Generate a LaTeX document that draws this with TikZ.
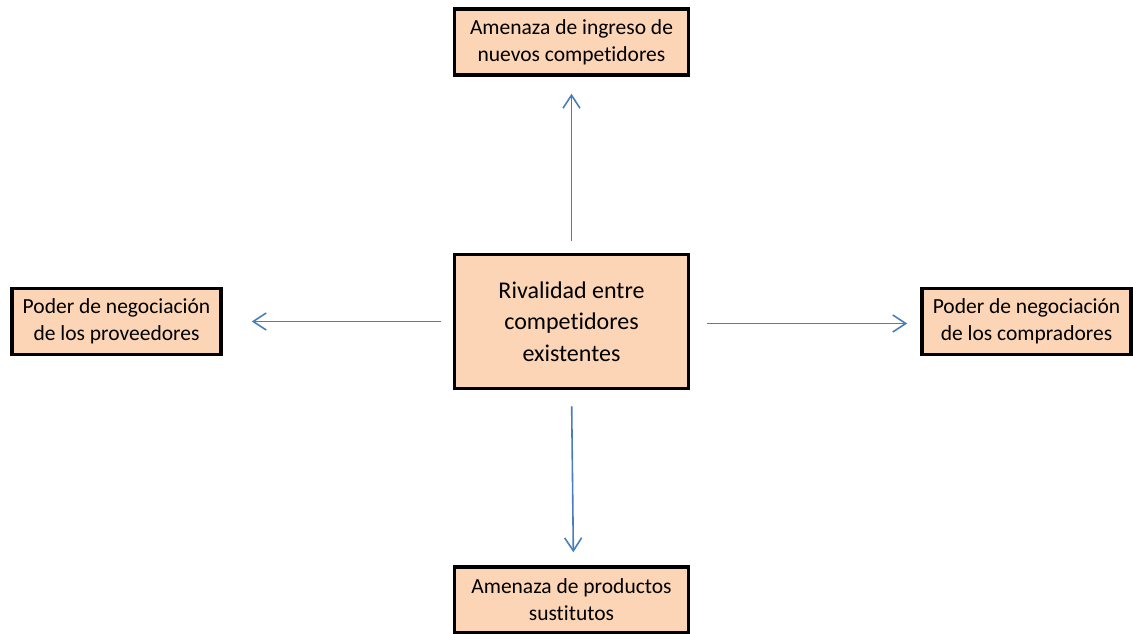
\documentclass[tikz,border=0pt]{standalone}
\usepackage{fontspec}
\setmainfont[Ligatures=NoCommon]{Carlito}
\usetikzlibrary{arrows.meta,positioning}

\definecolor{peach}{HTML}{FBD5B5}
\definecolor{arrowblue}{HTML}{4A7EBB}

\begin{document}
\begin{tikzpicture}[
  x=1pt, y=1pt,
  force/.style={rectangle, draw=black, line width=3.5pt, fill=peach, minimum height=66pt, minimum width=234pt, inner sep=2pt, align=center, font=\fontsize{21.5}{27}\selectfont},
  side/.style={force, minimum width=209pt},
  center/.style={force, minimum height=134pt, font=\fontsize{24}{31.5}\selectfont},
  arrow/.style={-{Straight Barb[length=13pt,width=17pt]}, draw=arrowblue, line width=1.6pt}
]
\useasboundingbox (0,0) rectangle (1133,633);

% Forces
\node[center] (rival) at (571.5,311.5) {Rivalidad entre\\competidores\\existentes};
\node[force, above=176pt of rival] (entrants) {Amenaza de ingreso de\\nuevos competidores};
\node[side, left=230pt of rival] (suppliers) {Poder de negociación\\de los proveedores};
\node[side, right=230pt of rival] (buyers) {Poder de negociación\\de los compradores};
\node[force, below=175pt of rival] (substitutes) {Amenaza de productos\\sustitutos};

% Connect the forces
\draw[arrow, shorten <=12pt, shorten >=17pt] (rival) -- (entrants);
\draw[arrow, shorten <=12pt, shorten >=29pt] (rival) -- (suppliers);
\draw[arrow, shorten <=17pt, shorten >=13pt] ([yshift=-2pt]rival.east) -- ([yshift=-2pt]buyers.west);
\draw[arrow, shorten <=16pt, shorten >=13pt] (rival.south) -- ([xshift=2pt]substitutes.north);

\end{tikzpicture}
\end{document}
